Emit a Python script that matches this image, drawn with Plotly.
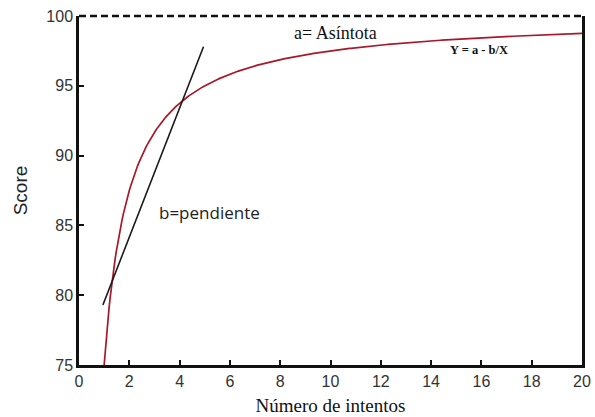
import numpy as np
import plotly.graph_objects as go

# Model parameters: Y = a - b/X
a_asintota = 100.0
b_param = 25.0
x_curve = np.linspace(1, 20, 400).tolist()
y_curve = [a_asintota - b_param / x for x in x_curve]

# Slope line endpoints
x_line = [0.95, 4.95]
y_line = [79.3, 97.8]

x_ticks = list(range(0, 21, 2))
y_ticks = [75, 80, 85, 90, 95, 100]

fig = go.Figure()
fig.add_trace(go.Scatter(x=x_curve, y=y_curve, mode="lines",
                         line=dict(color="#a8172a", width=1.7), showlegend=False))
fig.add_trace(go.Scatter(x=x_line, y=y_line, mode="lines",
                         line=dict(color="#1a1a1a", width=1.6), showlegend=False))

fig.add_shape(type="line", xref="x", yref="paper", x0=0, x1=20, y0=1, y1=1,
              line=dict(color="#111", width=2.4, dash="7px,4px"))

fig.add_annotation(x=10.2, y=98.8, xref="x", yref="y", text="a= Asíntota", showarrow=False,
                   font=dict(family="Liberation Serif", size=18, color="#111"))
fig.add_annotation(x=15.9, y=97.55, xref="x", yref="y", text="<b>Y = a - b/X</b>", showarrow=False,
                   font=dict(family="Liberation Serif", size=12.5, color="#111"))
fig.add_annotation(x=3.1, y=85.9, xref="x", yref="y", text="b=pendiente", showarrow=False,
                   xanchor="left",
                   font=dict(family="Open Sans", size=17, color="#222"))

fig.update_layout(
    width=595, height=417,
    margin=dict(l=79, r=13, t=16, b=52),
    paper_bgcolor="white", plot_bgcolor="white",
    xaxis=dict(range=[0, 20], tickvals=x_ticks, showgrid=False, zeroline=False,
               automargin=False, ticklabeloverflow="allow",
               showline=True, linecolor="#111", linewidth=2.5, mirror=False,
               ticks="inside", ticklen=5, tickcolor="#111", tickwidth=1.5,
               tickfont=dict(family="Liberation Sans", size=16, color="#333"),
               title=dict(text="Número de intentos", standoff=10,
                          font=dict(family="Liberation Serif", size=19, color="#111"))),
    yaxis=dict(range=[75, 100], tickvals=y_ticks, showgrid=False, zeroline=False,
               automargin=False, ticklabeloverflow="allow",
               showline=True, linecolor="#111", linewidth=2.5, mirror=True,
               ticks="inside", ticklen=5, tickcolor="#111", tickwidth=1.5,
               tickfont=dict(family="Liberation Sans", size=16, color="#333"),
               title=dict(text="Score", standoff=14,
                          font=dict(family="Liberation Sans", size=19, color="#222"))),
)

fig.write_html("out.html")
